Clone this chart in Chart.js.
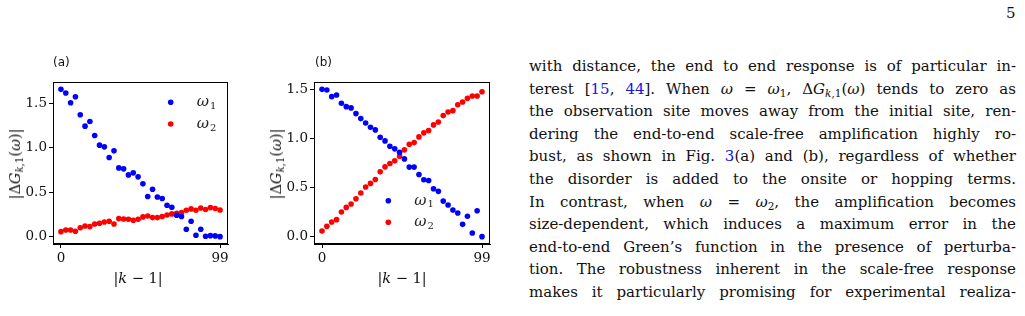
<!DOCTYPE html>
<html>
<head>
<meta charset="utf-8">
<script src="https://cdn.jsdelivr.net/npm/chart.js@4.4.1/dist/chart.umd.min.js"></script>
<style>
  html, body { margin: 0; padding: 0; background: #fff; }
  body { width: 1025px; height: 316px; position: relative; overflow: hidden; }
  canvas { position: absolute; top: 0; }
  .lbl { position: absolute; font-family: "DejaVu Sans", sans-serif; font-size: 12px; color: #111; }
  .math { position: absolute; font-family: "DejaVu Serif", serif; font-size: 14.5px; color: #111; white-space: nowrap; }
  .math i { font-style: italic; }
  .math sub { font-size: 0.7em; vertical-align: -0.3em; line-height: 0; }
  .ytitle { transform: translate(-50%, -50%) rotate(-90deg); }
  .xtitle { transform: translate(-50%, -50%); }
  #text { position: absolute; left: 529px; top: 55px; width: 487px; font-family: "DejaVu Serif", serif; font-size: 15px; color: #111; }
  #text div { height: 22.6px; line-height: 22.6px; text-align: justify; text-align-last: justify; white-space: nowrap; }
  #text sub { font-size: 0.7em; vertical-align: -0.3em; line-height: 0; }
  #text a { color: #1515e6; text-decoration: none; }
  #page { position: absolute; left: 1006px; top: 4px; font-family: "DejaVu Serif", serif; font-size: 15px; color: #111; }
</style>
</head>
<body>
<canvas id="chart-a" width="250" height="316" style="left:0"></canvas>
<canvas id="chart-b" width="245" height="316" style="left:260px"></canvas>

<div class="lbl" style="left:53px; top:55px">(a)</div>
<div class="lbl" style="left:315px; top:55px">(b)</div>

<div class="math ytitle" style="left:15px; top:164px">|Δ<i>G</i><sub><i>k</i>,1</sub>(<i>ω</i>)|</div>
<div class="math ytitle" style="left:276px; top:164px">|Δ<i>G</i><sub><i>k</i>,1</sub>(<i>ω</i>)|</div>
<div class="math xtitle" style="left:138px; top:278px">|<i>k</i> − 1|</div>
<div class="math xtitle" style="left:402px; top:278px">|<i>k</i> − 1|</div>

<div id="page">5</div>

<div id="text">
  <div>with distance, the end to end response is of particular in-</div>
  <div>terest [<a>15</a>, <a>44</a>]. When <i>ω</i> = <i>ω</i><sub>1</sub>, Δ<i>G</i><sub><i>k</i>,1</sub>(<i>ω</i>) tends to zero as</div>
  <div>the observation site moves away from the initial site, ren-</div>
  <div>dering the end-to-end scale-free amplification highly ro-</div>
  <div>bust, as shown in Fig. <a>3</a>(a) and (b), regardless of whether</div>
  <div>the disorder is added to the onsite or hopping terms.</div>
  <div>In contrast, when <i>ω</i> = <i>ω</i><sub>2</sub>, the amplification becomes</div>
  <div>size-dependent, which induces a maximum error in the</div>
  <div>end-to-end Green’s function in the presence of perturba-</div>
  <div>tion. The robustness inherent in the scale-free response</div>
  <div>makes it particularly promising for experimental realiza-</div>
</div>

<script>
// |k-1| positions (every third site)
const sites = [0, 3, 6, 9, 12, 15, 18, 21, 24, 27, 30, 33, 36, 39, 42, 45, 48,
  51, 54, 57, 60, 63, 66, 69, 72, 75, 78, 81, 84, 87, 90, 93, 96, 99];

// panel (a)
const omega1A = [1.658, 1.617, 1.508, 1.575, 1.372, 1.244, 1.297, 1.139, 1.030, 1.011,
  0.891, 0.966, 0.774, 0.763, 0.695, 0.718, 0.673, 0.594, 0.451, 0.534,
  0.447, 0.429, 0.353, 0.331, 0.241, 0.226, 0.083, 0.173, 0.015, 0.083,
  0.004, 0.011, 0.008, 0.0];
const omega2A = [0.056, 0.075, 0.075, 0.060, 0.100, 0.120, 0.113, 0.143, 0.150, 0.165,
  0.173, 0.143, 0.203, 0.199, 0.195, 0.184, 0.195, 0.222, 0.233, 0.214,
  0.214, 0.226, 0.244, 0.256, 0.263, 0.270, 0.297, 0.312, 0.297, 0.323,
  0.305, 0.327, 0.316, 0.300];

// panel (b)
const omega1B = [1.500, 1.493, 1.426, 1.443, 1.358, 1.324, 1.311, 1.253, 1.202, 1.158,
  1.114, 1.087, 1.013, 0.975, 0.921, 0.894, 0.860, 0.792, 0.708, 0.708,
  0.633, 0.579, 0.572, 0.488, 0.461, 0.362, 0.322, 0.271, 0.240, 0.125,
  0.207, 0.037, 0.264, 0.0];
const omega2B = [0.058, 0.105, 0.149, 0.173, 0.251, 0.298, 0.332, 0.386, 0.444, 0.505,
  0.542, 0.582, 0.660, 0.711, 0.745, 0.772, 0.820, 0.884, 0.941, 0.958,
  1.016, 1.057, 1.080, 1.138, 1.168, 1.233, 1.270, 1.283, 1.344, 1.371,
  1.409, 1.432, 1.432, 1.476];

const xTicks = [0, 99];
const yTicks = [0, 0.5, 1.0, 1.5];
const seriesLabels = ['ω', 'ω'];
const seriesSubs = ['1', '2'];
const seriesColors = ['#0000ff', '#ff0000'];

const serif = '"DejaVu Serif", serif';

// frame around plot area (matplotlib style box)
const framePlugin = {
  id: 'frame',
  afterDatasetsDraw(chart) {
    const a = chart.chartArea;
    const ctx = chart.ctx;
    ctx.save();
    ctx.strokeStyle = '#000';
    ctx.lineWidth = 1;
    ctx.strokeRect(Math.round(a.left) + 0.5, Math.round(a.top) + 0.5,
      Math.round(a.right - a.left) - 1, Math.round(a.bottom - a.top) - 1);
    ctx.restore();
  }
};

// legend drawn inside the axes
const innerLegend = {
  id: 'innerLegend',
  afterDatasetsDraw(chart, args, opts) {
    const ctx = chart.ctx;
    ctx.save();
    chart.data.datasets.forEach((ds, i) => {
      const y = opts.y + i * opts.gap;
      ctx.fillStyle = ds.backgroundColor;
      ctx.beginPath();
      ctx.arc(opts.x, y, 2.8, 0, Math.PI * 2);
      ctx.fill();
      ctx.fillStyle = '#222';
      ctx.textBaseline = 'middle';
      ctx.font = 'italic 15px ' + serif;
      const tx = opts.x + 26;
      ctx.fillText(seriesLabels[i], tx, y);
      const w = ctx.measureText(seriesLabels[i]).width;
      ctx.font = '10px ' + serif;
      ctx.fillText(seriesSubs[i], tx + w + 1, y + 4);
    });
    ctx.restore();
  }
};

function makeChart(id, s1, s2, yMin, yMax, axisWidth, padRight, legendPos) {
  const ctx = document.getElementById(id);
  return new Chart(ctx, {
    type: 'scatter',
    data: {
      datasets: [
        {
          label: 'ω1',
          data: sites.map((x, i) => ({ x: x, y: s1[i] })),
          backgroundColor: seriesColors[0],
          borderWidth: 0,
          pointRadius: 2.8
        },
        {
          label: 'ω2',
          data: sites.map((x, i) => ({ x: x, y: s2[i] })),
          backgroundColor: seriesColors[1],
          borderWidth: 0,
          pointRadius: 2.8
        }
      ]
    },
    options: {
      responsive: false,
      animation: false,
      devicePixelRatio: 1,
      layout: { padding: { left: 0, top: 82, right: padRight, bottom: 0 } },
      plugins: {
        legend: { display: false },
        tooltip: { enabled: false },
        innerLegend: legendPos
      },
      scales: {
        x: {
          type: 'linear',
          min: -4.95,
          max: 103.95,
          afterBuildTicks: scale => { scale.ticks = xTicks.map(v => ({ value: v })); },
          afterFit: scale => { scale.height = 72; },
          ticks: {
            color: '#111',
            padding: 2,
            font: { family: serif, size: 13.5 },
            callback: v => String(v)
          },
          grid: { drawOnChartArea: false, drawTicks: true, tickLength: 4, tickColor: '#000' },
          border: { display: true, color: '#000', width: 1 }
        },
        y: {
          min: yMin,
          max: yMax,
          afterBuildTicks: scale => { scale.ticks = yTicks.map(v => ({ value: v })); },
          afterFit: scale => { scale.width = axisWidth; },
          ticks: {
            color: '#111',
            padding: 2,
            font: { family: serif, size: 13.5 },
            callback: v => v.toFixed(1)
          },
          grid: { drawOnChartArea: false, drawTicks: true, tickLength: 4, tickColor: '#000' },
          border: { display: true, color: '#000', width: 1 }
        }
      }
    },
    plugins: [framePlugin, innerLegend]
  });
}

makeChart('chart-a', omega1A, omega2A, -0.083, 1.741, 53, 22, { x: 170.7, y: 102.3, gap: 21.7 });
makeChart('chart-b', omega1B, omega2B, -0.075, 1.575, 54, 15, { x: 128.3, y: 200.7, gap: 21.6 });
</script>
</body>
</html>
